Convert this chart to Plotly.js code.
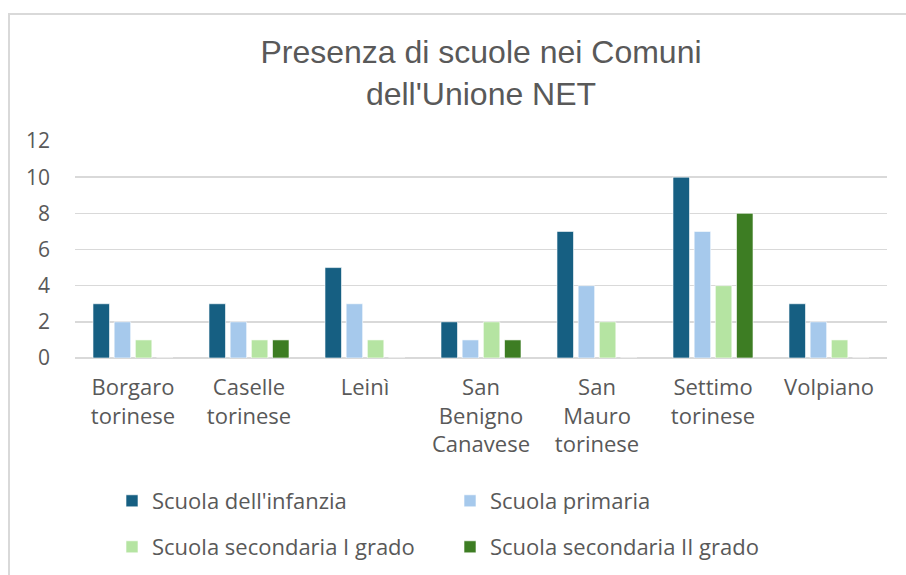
<!DOCTYPE html>
<html>
<head>
<meta charset="utf-8">
<script src="https://cdn.plot.ly/plotly-3.0.1.min.js"></script>
<style>html,body{margin:0;padding:0;background:#fff;}#chart{width:906px;height:575px;}</style>
</head>
<body>
<div id="chart"></div>
<script>
const categories = ["Borgaro<br>torinese", "Caselle<br>torinese", "Leinì", "San<br>Benigno<br>Canavese", "San<br>Mauro<br>torinese", "Settimo<br>torinese", "Volpiano"];
const seriesNames = ["Scuola dell'infanzia", "Scuola primaria", "Scuola secondaria I grado", "Scuola secondaria II grado"];
const infanzia = [3, 3, 5, 2, 7, 10, 3];
const primaria = [2, 2, 3, 1, 4, 7, 2];
const secondariaI = [1, 1, 1, 2, 2, 4, 1];
const secondariaII = [0, 1, 0, 1, 0, 8, 0];
const colors = ["#165f82", "#a6c9ec", "#b5e4a2", "#3d7d23"];
const yTicks = [0, 2, 4, 6, 8, 10, 12];

const values = [infanzia, primaria, secondariaI, secondariaII];
const legendIds = ["legend", "legend", "legend2", "legend2"];
const traces = values.map((v, i) => ({
  type: "bar",
  name: seriesNames[i],
  x: categories,
  y: v,
  legend: legendIds[i],
  marker: {color: colors[i], line: {color: "rgba(255,255,255,0.6)", width: 1}},
  hoverinfo: "x+y+name"
}));

const W = 906, H = 575;
const mL = 75, mR = 19, mT = 141, mB = 217;
const pw = W - mL - mR, ph = H - mT - mB;
const px = p => (p - mL) / pw;
const py = p => (H - mB - p) / ph;

const font = "'Open Sans', 'DejaVu Sans', sans-serif";
const legendFont = {family: font, size: 22, color: "#595959"};
const legendBase = {
  orientation: "h",
  xanchor: "left",
  yanchor: "top",
  entrywidth: 293,
  entrywidthmode: "pixels",
  itemwidth: 30,
  font: legendFont,
  traceorder: "normal",
  bgcolor: "rgba(0,0,0,0)"
};

const layout = {
  width: W, height: H,
  margin: {l: mL, r: mR, t: mT, b: mB, pad: 0, autoexpand: false},
  paper_bgcolor: "#ffffff",
  plot_bgcolor: "#ffffff",
  title: {
    text: "Presenza di scuole nei Comuni<br>dell'Unione NET",
    font: {family: "'Liberation Sans', Arial, sans-serif", size: 32, color: "#595959"},
    x: 0.5, xref: "paper", xanchor: "center",
    y: 1 - 63 / H, yanchor: "top"
  },
  barmode: "group",
  bargap: 0.27,
  bargroupgap: 0.22,
  xaxis: {
    type: "category",
    showgrid: false,
    showline: false,
    zeroline: false,
    ticks: "",
    ticklabelstandoff: 14,
    tickfont: {family: font, size: 22, color: "#595959"},
    fixedrange: true
  },
  yaxis: {
    range: [0, 12],
    tickvals: yTicks,
    ticktext: yTicks.map(String),
    showgrid: true,
    gridcolor: "#d9d9d9",
    gridwidth: 1.5,
    zeroline: true,
    zerolinecolor: "#d9d9d9",
    zerolinewidth: 1.5,
    showline: false,
    ticks: "",
    ticklabelstandoff: 24,
    tickfont: {family: font, size: 21, color: "#595959"},
    fixedrange: true
  },
  showlegend: true,
  legend: Object.assign({}, legendBase, {x: px(112), y: py(480)}),
  legend2: Object.assign({}, legendBase, {x: px(112), y: py(526)}),
  shapes: [{
    type: "rect", xref: "paper", yref: "paper",
    x0: px(9), x1: px(920), y0: py(14), y1: py(590),
    line: {color: "#d9d9d9", width: 2},
    fillcolor: "rgba(0,0,0,0)",
    layer: "below"
  }]
};

Plotly.newPlot("chart", traces, layout, {displayModeBar: false, staticPlot: true});
</script>
</body>
</html>
